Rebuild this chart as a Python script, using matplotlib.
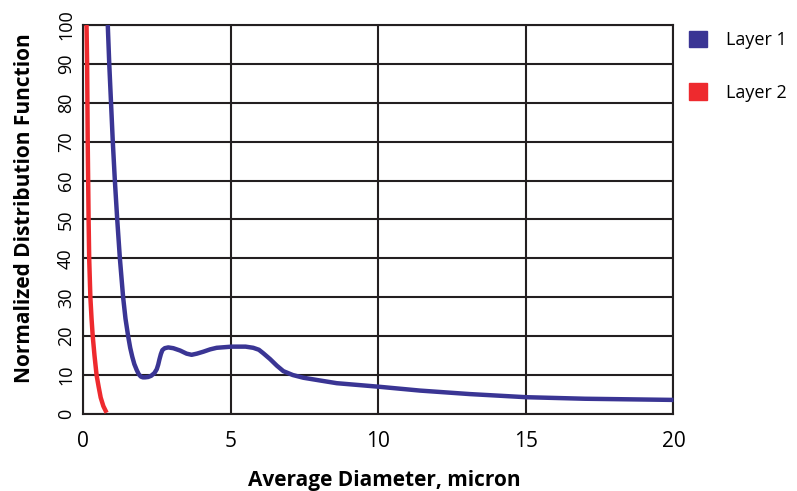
import matplotlib
matplotlib.use("Agg")
import matplotlib.pyplot as plt
from matplotlib.patches import Patch

# Layer 1 (blue) values
layer1_x = [0.83, 0.88, 0.94, 1.0, 1.07, 1.15, 1.24, 1.35, 1.43, 1.52, 1.59, 1.66,
            1.73, 1.81, 1.88, 1.95, 2.02, 2.09, 2.2, 2.3, 2.41, 2.49, 2.54, 2.58,
            2.63, 2.68, 2.76, 2.88, 3.05, 3.28, 3.5, 3.67, 3.85, 4.07, 4.3, 4.52,
            5.03, 5.5, 5.76, 5.95, 6.1, 6.33, 6.56, 6.78, 7.1, 7.46, 8.02, 8.59,
            10.0, 11.41, 13.1, 15.0, 17.0, 20.0]
layer1_y = [100, 90, 80, 70, 60, 50, 40, 30, 24.5, 20.0, 17.0, 14.7,
            12.8, 11.3, 10.2, 9.6, 9.4, 9.4, 9.5, 9.8, 10.5, 11.5, 12.7, 14.0,
            15.4, 16.4, 16.9, 17.1, 16.9, 16.3, 15.5, 15.2, 15.5, 16.0, 16.6, 17.0,
            17.3, 17.3, 17.0, 16.5, 15.6, 14.1, 12.4, 11.0, 10.0, 9.3, 8.6, 7.9,
            7.0, 6.0, 5.1, 4.3, 3.9, 3.6]

# Layer 2 (red)
layer2_x = [0.11, 0.13, 0.15, 0.18, 0.2, 0.24, 0.28, 0.32, 0.38, 0.45, 0.52, 0.59, 0.68, 0.79]
layer2_y = [100, 90, 70, 50, 40, 30, 24.5, 20, 15, 10, 7, 4.2, 2.0, 0.3]

xticks = [0, 5, 10, 15, 20]
yticks = [0, 10, 20, 30, 40, 50, 60, 70, 80, 90, 100]

c1 = "#3a3594"
c2 = "#ee2a2e"
dark = "#231f20"

plt.rcParams['font.family'] = ['Open Sans', 'DejaVu Sans']

fig = plt.figure(figsize=(7.97, 4.91), dpi=100)
ax = fig.add_axes([0.1045, 0.157, 0.7405, 0.792])

ax.plot(layer1_x, layer1_y, color=c1, lw=3.2, solid_joinstyle='round',
        solid_capstyle='butt', zorder=3, clip_on=False)
ax.plot(layer2_x, layer2_y, color=c2, lw=3.2, solid_joinstyle='round',
        solid_capstyle='butt', zorder=3, clip_on=False)

ax.set_xlim(0, 20)
ax.set_ylim(0, 100)
ax.set_xticks(xticks)
ax.set_yticks(yticks)
ax.set_xticklabels([str(v) for v in xticks], fontsize=15)
ax.set_yticklabels([str(v) for v in yticks], fontsize=13, rotation=90, va='center')
ax.tick_params(axis='both', length=0, colors='black')
ax.tick_params(axis='x', pad=12)
ax.tick_params(axis='y', pad=6)
ax.grid(True, color=dark, lw=1.5)
ax.set_axisbelow(True)
for s in ax.spines.values():
    s.set_color(dark)
    s.set_linewidth(1.5)

ax.set_xlabel("Average Diameter, micron", fontsize=15, fontweight='bold')
ax.set_ylabel("Normalized Distribution Function", fontsize=15, fontweight='bold')
ax.xaxis.set_label_coords(0.51, -0.143)
ax.yaxis.set_label_coords(-0.081, 0.53)

handles = [Patch(color=c1), Patch(color=c2)]
ax.legend(handles, ["Layer 1", "Layer 2"], loc='upper left', bbox_to_anchor=(1.027, 0.985),
          frameon=False, handlelength=1.0, handleheight=1.0, fontsize=13,
          labelspacing=1.9, handletextpad=1.0, borderaxespad=0, borderpad=0)

fig.savefig("out.png", dpi=100)
